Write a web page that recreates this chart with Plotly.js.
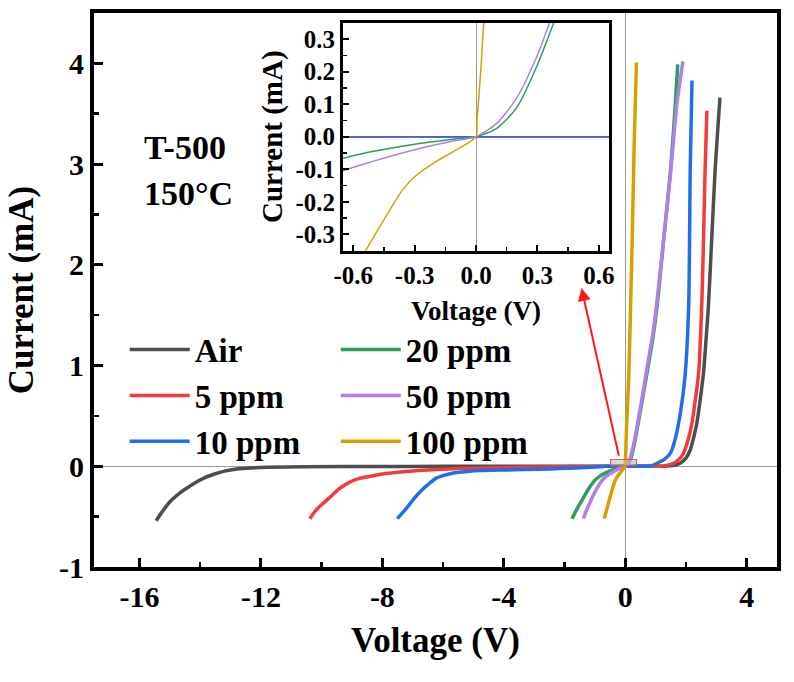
<!DOCTYPE html>
<html>
<head>
<meta charset="utf-8">
<script src="https://cdn.plot.ly/plotly-3.0.1.min.js"></script>
<style>html,body{margin:0;padding:0;background:#fff;}#chart{width:794px;height:682px;}</style>
</head>
<body>
<div id="chart"></div>
<script>
// ---- data ----
const seriesNames = ["Air", "5 ppm", "10 ppm", "20 ppm", "50 ppm", "100 ppm"];
const seriesColors = ["#4d4d4d", "#f23b3b", "#1f6fe8", "#2ca05a", "#b27ee8", "#d6a000"];

const airV = [-15.45, -15.25, -14.99, -14.6, -14.26, -13.9, -13.53, -13.2, -12.8, -12.3, -11.78, -10.6, -8, -6, -4, -2, -0.65, 0, 0.65, 1.0, 1.4, 1.65, 1.81, 2.0, 2.14, 2.25, 2.36, 2.47, 2.58, 2.66, 2.74, 2.85, 2.96, 3.05, 3.12];
const airI = [-0.54, -0.45, -0.35, -0.25, -0.18, -0.12, -0.077, -0.048, -0.027, -0.016, -0.01, -0.004, -0.002, -0.001, 0, 0, 0, 0, 0, 0, 0.003, 0.012, 0.03, 0.08, 0.16, 0.28, 0.43, 0.66, 0.93, 1.25, 1.59, 2.26, 2.93, 3.35, 3.66];

const ppm5V = [-10.39, -10.2, -9.96, -9.7, -9.45, -9.15, -8.86, -8.4, -7.99, -7.4, -6.82, -6.2, -5.51, -4.4, -3.32, -1.87, -0.65, 0, 0.65, 1.0, 1.3, 1.6, 1.78, 1.92, 2.06, 2.2, 2.31, 2.42, 2.52, 2.58, 2.63, 2.69];
const ppm5I = [-0.52, -0.44, -0.37, -0.3, -0.23, -0.17, -0.13, -0.1, -0.077, -0.058, -0.043, -0.032, -0.023, -0.015, -0.01, -0.003, 0, 0, 0, 0, 0.005, 0.03, 0.07, 0.13, 0.25, 0.43, 0.66, 0.93, 1.59, 2.26, 2.93, 3.53];

const ppm10V = [-7.51, -7.3, -7.11, -6.9, -6.68, -6.45, -6.24, -5.95, -5.66, -5.2, -4.78, -4.0, -3.32, -2.5, -1.87, -1.0, -0.65, 0, 0.3, 0.65, 0.85, 1.05, 1.3, 1.49, 1.63, 1.76, 1.88, 1.98, 2.09, 2.12, 2.14, 2.2];
const ppm10I = [-0.52, -0.45, -0.38, -0.3, -0.23, -0.17, -0.12, -0.088, -0.067, -0.052, -0.043, -0.037, -0.033, -0.026, -0.02, -0.008, -0.001, 0, 0, 0, 0.005, 0.03, 0.07, 0.13, 0.25, 0.43, 0.66, 0.93, 1.59, 2.26, 2.93, 3.83];

const ppm20V = [-1.75, -1.6, -1.43, -1.2, -1.0, -0.8, -0.65, -0.5, -0.3, -0.1, 0, 0.1, 0.2, 0.3, 0.38, 0.5, 0.72, 0.9, 1.05, 1.27, 1.49, 1.65, 1.73];
const ppm20I = [-0.52, -0.43, -0.34, -0.22, -0.14, -0.09, -0.066, -0.045, -0.023, -0.007, 0, 0.025, 0.09, 0.22, 0.35, 0.55, 0.93, 1.25, 1.59, 2.26, 2.93, 3.59, 3.99];

const ppm50V = [-1.38, -1.25, -1.1, -0.95, -0.8, -0.65, -0.5, -0.3, -0.1, 0, 0.1, 0.2, 0.3, 0.36, 0.5, 0.72, 0.9, 1.03, 1.27, 1.5, 1.7, 1.9];
const ppm50I = [-0.52, -0.42, -0.32, -0.23, -0.155, -0.105, -0.075, -0.04, -0.012, 0, 0.04, 0.12, 0.25, 0.35, 0.58, 0.98, 1.3, 1.6, 2.26, 2.93, 3.59, 4.02];

const ppm100V = [-0.69, -0.62, -0.535, -0.43, -0.36, -0.3, -0.2, -0.1, 0, 0.005, 0.015, 0.025, 0.038, 0.12, 0.23, 0.3, 0.37];
const ppm100I = [-0.52, -0.44, -0.345, -0.234, -0.164, -0.123, -0.078, -0.042, 0, 0.05, 0.13, 0.22, 0.35, 0.93, 2.26, 3.26, 4.01];

const mainXTicks = [-16, -12, -8, -4, 0, 4];
const mainYTicks = [-1, 0, 1, 2, 3, 4];
const insetXTicks = [-0.6, -0.3, 0.0, 0.3, 0.6];
const insetYTicks = [-0.3, -0.2, -0.1, 0.0, 0.1, 0.2, 0.3];

const allV = [airV, ppm5V, ppm10V, ppm20V, ppm50V, ppm100V];
const allI = [airI, ppm5I, ppm10I, ppm20I, ppm50I, ppm100I];
const legendOf = ["legend", "legend", "legend", "legend2", "legend2", "legend2"];

// ---- traces ----
const FONT = "Liberation Serif, Times New Roman, serif";
const traces = [];
for (let k = 0; k < seriesNames.length; k++) {
  traces.push({
    type: "scatter", mode: "lines", name: seriesNames[k],
    x: allV[k], y: allI[k], xaxis: "x", yaxis: "y",
    line: {color: seriesColors[k], width: 3.5, shape: "spline", smoothing: 0.7},
    legend: legendOf[k], legendgroup: "g" + k,
    hoverinfo: "skip"
  });
}
for (let k = 0; k < seriesNames.length; k++) {
  traces.push({
    type: "scatter", mode: "lines", name: seriesNames[k],
    x: allV[k], y: allI[k], xaxis: "x2", yaxis: "y2",
    line: {color: seriesColors[k], width: 1.5, shape: "spline", smoothing: 0.7},
    showlegend: false, hoverinfo: "skip"
  });
}

const tickFontMain = {family: FONT, size: 30, color: "#000", weight: "bold"};
const titleFontMain = {family: FONT, size: 35, color: "#000", weight: "bold"};
const tickFontIn = {family: FONT, size: 25, color: "#000", weight: "bold"};
const titleFontInX = {family: FONT, size: 27, color: "#000", weight: "bold"};
const titleFontInY = {family: FONT, size: 29, color: "#000", weight: "bold"};
const legFont = {family: FONT, size: 33, color: "#000", weight: "bold"};

const layout = {
  width: 794, height: 682,
  margin: {l: 94, r: 17, t: 13, b: 115},
  paper_bgcolor: "#fff", plot_bgcolor: "#fff",
  showlegend: true,
  xaxis: {
    range: [-17.5, 5], tickvals: mainXTicks, ticktext: mainXTicks.map(String),
    showline: true, mirror: true, linecolor: "#000", linewidth: 4,
    ticks: "inside", ticklen: 9, tickwidth: 3, tickcolor: "#000",
    minor: {ticks: "inside", ticklen: 5, tickwidth: 2.5, dtick: 2, tickcolor: "#000"},
    showgrid: false, zeroline: true, zerolinecolor: "#9a9a9a", zerolinewidth: 1,
    tickfont: tickFontMain,
    title: {text: "Voltage (V)", font: titleFontMain, standoff: 16},
    domain: [0, 1], anchor: "y"
  },
  yaxis: {
    range: [-1, 4.5], tickvals: mainYTicks, ticktext: mainYTicks.map(String),
    showline: true, mirror: true, linecolor: "#000", linewidth: 4,
    ticks: "inside", ticklen: 9, tickwidth: 3, tickcolor: "#000",
    minor: {ticks: "inside", ticklen: 5, tickwidth: 2.5, dtick: 0.5, tickcolor: "#000"},
    showgrid: false, zeroline: true, zerolinecolor: "#9a9a9a", zerolinewidth: 1,
    tickfont: tickFontMain,
    title: {text: "Current (mA)", font: titleFontMain, standoff: 16},
    domain: [0, 1], anchor: "x"
  },
  xaxis2: {
    range: [-0.65, 0.65], tickvals: insetXTicks, ticktext: insetXTicks.map(v => v.toFixed(1)),
    showline: true, mirror: true, linecolor: "#000", linewidth: 3,
    ticks: "inside", ticklen: 6, tickwidth: 2, tickcolor: "#000",
    minor: {ticks: "inside", ticklen: 4, tickwidth: 1.5, dtick: 0.15, tickcolor: "#000"},
    showgrid: false, zeroline: true, zerolinecolor: "#9a9a9a", zerolinewidth: 1,
    tickfont: tickFontIn,
    title: {text: "Voltage (V)", font: titleFontInX, standoff: 14},
    domain: [0.3646, 0.754], anchor: "y2"
  },
  yaxis2: {
    range: [-0.35, 0.35], tickvals: insetYTicks, ticktext: insetYTicks.map(v => v.toFixed(1)),
    showline: true, mirror: true, linecolor: "#000", linewidth: 3,
    ticks: "inside", ticklen: 6, tickwidth: 2, tickcolor: "#000",
    minor: {ticks: "inside", ticklen: 4, tickwidth: 1.5, dtick: 0.05, tickcolor: "#000"},
    showgrid: false, zeroline: true, zerolinecolor: "#9a9a9a", zerolinewidth: 1,
    tickfont: tickFontIn,
    title: {text: "Current (mA)", font: titleFontInY, standoff: 5},
    domain: [0.571, 0.9825], anchor: "x2"
  },
  legend: {
    x: 0.045, y: 0.443, xanchor: "left", yanchor: "top",
    bgcolor: "rgba(0,0,0,0)", borderwidth: 0, font: legFont,
    itemwidth: 60, tracegroupgap: 0, traceorder: "normal"
  },
  legend2: {
    x: 0.354, y: 0.443, xanchor: "left", yanchor: "top",
    bgcolor: "rgba(0,0,0,0)", borderwidth: 0, font: legFont,
    itemwidth: 60, tracegroupgap: 0, traceorder: "normal"
  },
  annotations: [
    {xref: "paper", yref: "paper", x: 0.07, y: 0.757, xanchor: "left", yanchor: "middle",
     text: "T-500", showarrow: false, font: {family: FONT, size: 34, color: "#000", weight: "bold"}},
    {xref: "paper", yref: "paper", x: 0.07, y: 0.675, xanchor: "left", yanchor: "middle",
     text: "150°C", showarrow: false, font: {family: FONT, size: 34, color: "#000", weight: "bold"}},
    {xref: "x", yref: "y", x: -1.44, y: 1.77, axref: "x", ayref: "y", ax: -0.2, ay: 0.09,
     text: "", showarrow: true, arrowcolor: "#ff1a1a", arrowwidth: 2, arrowhead: 2, arrowsize: 1.3}
  ],
  shapes: [
    {type: "rect", xref: "x", yref: "y", x0: -0.48, x1: 0.37, y0: 0.005, y1: 0.067,
     line: {color: "rgba(240,70,70,0.9)", width: 1.2}, fillcolor: "rgba(190,190,190,0.55)", layer: "above"}
  ]
};

Plotly.newPlot("chart", traces, layout, {staticPlot: true, displayModeBar: false});
</script>
</body>
</html>
